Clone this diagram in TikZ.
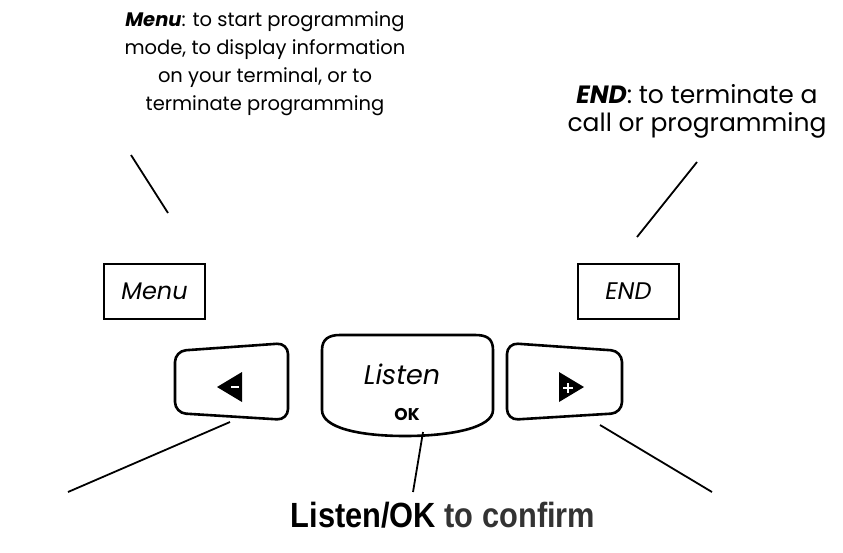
\documentclass[tikz,border=0pt]{standalone}
\usepackage{fontspec}
\setmainfont{Poppins}
\newfontfamily\capfont{Liberation Sans}
\usepackage{tikz}

\tikzset{
  keybox/.style={draw, line width=2.4pt, minimum width=101pt, minimum height=55pt, inner sep=0pt,
    font=\fontsize{24}{26}\selectfont\itshape},
  keyline/.style={line width=2.6pt, rounded corners=11pt},
  callout/.style={line width=1.8pt},
}

\begin{document}
\begin{tikzpicture}[x=1pt,y=-1pt]
\useasboundingbox (0,0) rectangle (843,552);

% explanations on top
\node[align=center, font=\fontsize{19.5}{28}\selectfont] (menutxt) at (265,64)
  {\textbf{\textit{Menu}}: to start programming\\mode, to display information\\on your terminal, or to\\terminate programming};
\node[align=center, font=\fontsize{25}{28}\selectfont] (endtxt) at (697,111)
  {\textbf{\textit{END}}: to terminate a\\call or programming};

% the two top keys
\node[keybox] (menukey) at (154.5,291.5) {Menu};
\node[keybox] (endkey) at (628.5,291.5) {END};

% left, centre and right keys
\draw[keyline] (175,351) -- (288,343) -- (288,420) -- (175,413) -- cycle;
\draw[keyline] (507,343) -- (622,351) -- (622,413) -- (507,420) -- cycle;
\draw[line width=2.6pt] (322,350) -- (322,410) .. controls (322,428) and (360,436) .. (405,436)
  .. controls (450,436) and (493,428) .. (493,410) -- (493,350)
  .. controls (493,338) and (486,335) .. (475,335) -- (340,335)
  .. controls (329,335) and (322,339) .. (322,350) -- cycle;

\node[font=\fontsize{27}{30}\selectfont\itshape] (listen) at (402,374) {Listen};
\node[font=\fontsize{17}{18}\selectfont\bfseries] (ok) at (407,414) {OK};

% arrow marks
\fill (217,387) -- (242,372) -- (242,402) -- cycle;
\draw[white, line width=2.5pt] (231,387) -- (239,387);
\fill (584,387) -- (559,372) -- (559,402) -- cycle;
\draw[white, line width=2.2pt] (563,388) -- (573,388) (568,383) -- (568,393);

% callout lines
\coordinate (m1) at (131,155);
\coordinate (m2) at (168,213);
\coordinate (e1) at (697,162);
\coordinate (e2) at (637,237);
\coordinate (l1) at (230,422);
\coordinate (l2) at (68,492);
\coordinate (c1) at (423,432);
\coordinate (c2) at (413,492);
\coordinate (r1) at (600,425);
\coordinate (r2) at (712,492);
\draw[callout] (m1) -- (m2);
\draw[callout] (e1) -- (e2);
\draw[callout] (l1) -- (l2);
\draw[callout] (c1) -- (c2);
\draw[callout] (r1) -- (r2);

\node[font=\capfont\bfseries\fontsize{35}{38}\selectfont] (confirm) at (443,515)
  {\scalebox{0.88}[1]{Listen/OK \textcolor[HTML]{333333}{to confirm}}};
\end{tikzpicture}
\end{document}
